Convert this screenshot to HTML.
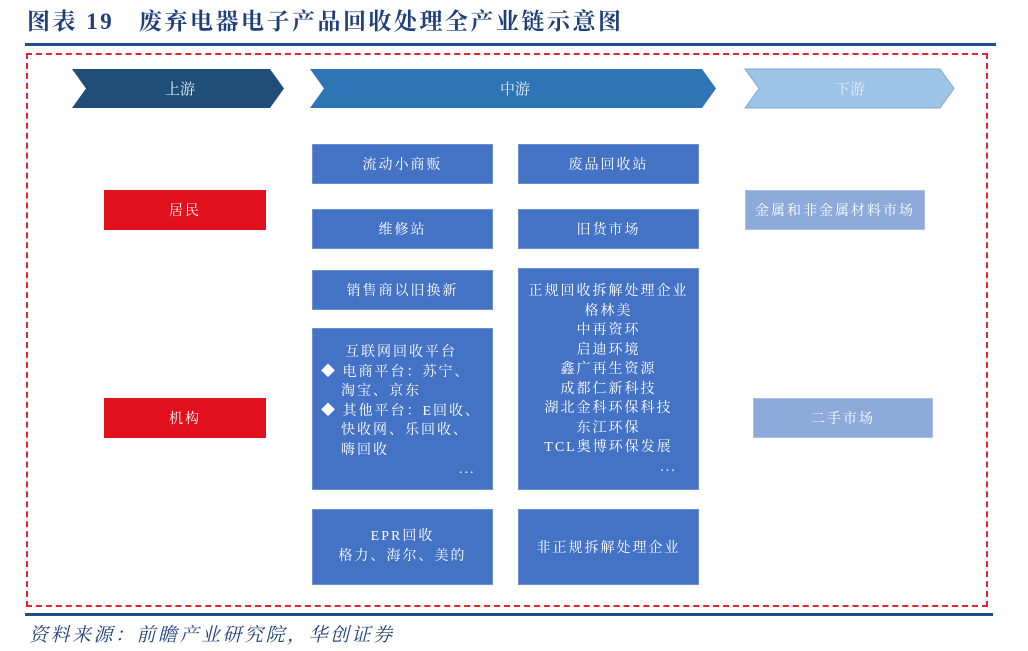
<!DOCTYPE html>
<html><head><meta charset="utf-8"><style>
body{margin:0;width:1028px;height:651px;background:#fff;position:relative;overflow:hidden;font-family:"Liberation Serif","Noto Serif CJK SC",serif}
.a{position:absolute}
.b{position:absolute;background:#4472c4;color:#fff;font-size:14px;display:flex;align-items:center;justify-content:center;text-align:center;border:1px solid #6f8fd0;box-sizing:border-box;letter-spacing:2px}
.r{background:#e2101c;border-color:#e2101c}
.l{background:#8eaadb;border-color:#a9bfe5}
</style></head><body>
<div class="a" style="left:27px;top:3px;font-size:23px;font-weight:bold;color:#1f3f7a;letter-spacing:2.5px;white-space:nowrap">图表 19&nbsp;&nbsp;&nbsp;废弃电器电子产品回收处理全产业链示意图</div>
<div class="a" style="left:25px;top:43px;width:971px;height:3px;background:#1f4e8c"></div>
<div class="a" style="left:26px;top:53px;width:958px;height:550px;border:2px dashed #e8222e"></div>
<svg class="a" style="left:0;top:0" width="1028" height="651">
<polygon points="72,69 270,69 284,88.5 270,108 72,108 86,88.5" fill="#1f4e79"/>
<polygon points="310,69 702,69 716,88.5 702,108 310,108 324,88.5" fill="#2e75b6"/>
<polygon points="745,69 940,69 954,88.5 940,108 745,108 759,88.5" fill="#9dc3e6" stroke="#7fa8d4"/>
<g fill="#e8eef7" font-size="15" text-anchor="middle" font-family="Liberation Serif,Noto Serif CJK SC,serif">
<text x="180" y="94">上游</text><text x="515" y="94">中游</text><text x="850" y="94">下游</text></g>
</svg>
<div class="b" style="left:312px;top:144px;width:181px;height:40px">流动小商贩</div>
<div class="b" style="left:518px;top:144px;width:181px;height:40px">废品回收站</div>
<div class="b" style="left:312px;top:209px;width:181px;height:40px">维修站</div>
<div class="b" style="left:518px;top:209px;width:181px;height:40px">旧货市场</div>
<div class="b" style="left:312px;top:270px;width:181px;height:40px">销售商以旧换新</div>
<div class="b" style="left:312px;top:328px;width:181px;height:162px;display:block;text-align:left;padding:14px 0 0 8px;line-height:19.5px">
<div style="padding-left:24px">互联网回收平台</div>
<div>◆&nbsp;电商平台：苏宁、</div><div style="padding-left:20px">淘宝、京东</div>
<div>◆&nbsp;其他平台：E回收、</div><div style="padding-left:20px">快收网、乐回收、</div><div style="padding-left:20px">嗨回收</div>
<div style="padding-left:138px">...</div></div>
<div class="b" style="left:518px;top:268px;width:181px;height:222px;display:block;padding-top:13px;line-height:19.5px">正规回收拆解处理企业<br>格林美<br>中再资环<br>启迪环境<br>鑫广再生资源<br>成都仁新科技<br>湖北金科环保科技<br>东江环保<br>TCL奥博环保发展<br><span style="padding-left:120px">...</span></div>
<div class="b" style="left:312px;top:509px;width:181px;height:76px;line-height:20px">EPR回收<br>格力、海尔、美的</div>
<div class="b" style="left:518px;top:509px;width:181px;height:76px">非正规拆解处理企业</div>
<div class="b r" style="left:104px;top:190px;width:162px;height:40px">居民</div>
<div class="b r" style="left:104px;top:398px;width:162px;height:40px">机构</div>
<div class="b l" style="left:745px;top:190px;width:180px;height:40px">金属和非金属材料市场</div>
<div class="b l" style="left:753px;top:398px;width:180px;height:40px">二手市场</div>
<div class="a" style="left:25px;top:613px;width:968px;height:3px;background:#1f4e8c"></div>
<div class="a" style="left:29px;top:620px;font-size:19px;font-style:italic;color:#1f3f7a;letter-spacing:2.5px;white-space:nowrap">资料来源：前瞻产业研究院，华创证券</div>
</body></html>
